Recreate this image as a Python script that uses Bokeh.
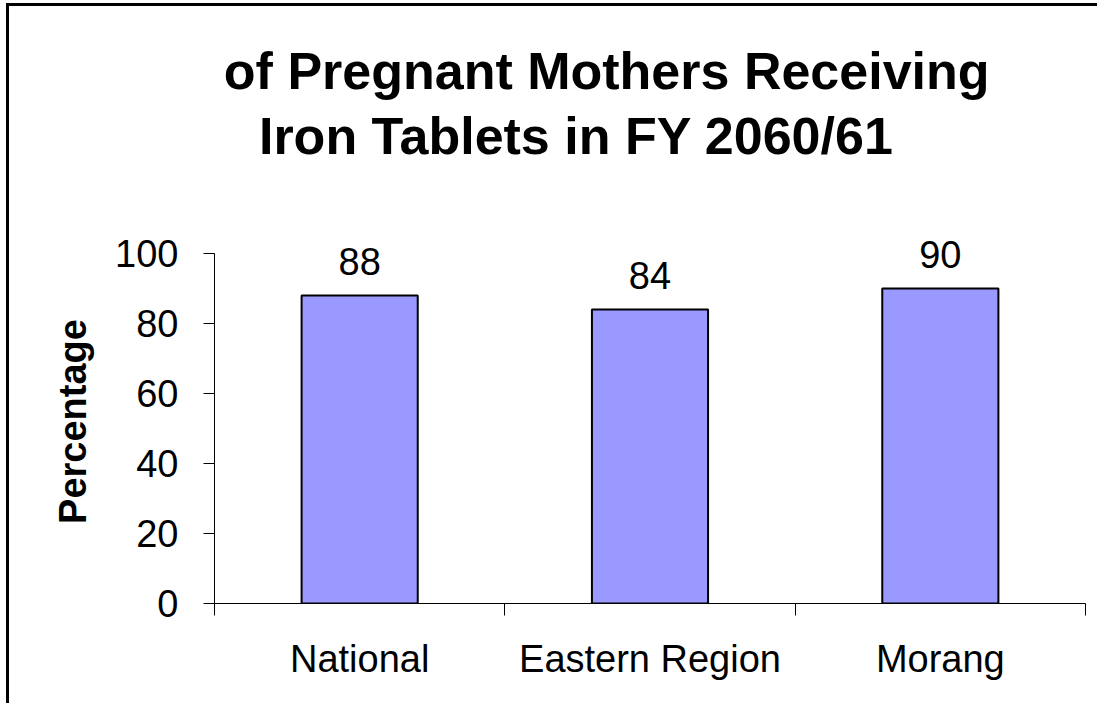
from bokeh.plotting import figure
from bokeh.layouts import column
from bokeh.models import (ColumnDataSource, Range1d, LinearAxis, FixedTicker, LabelSet)
from bokeh.core.properties import value
from bokeh.embed import file_html
from bokeh.resources import INLINE

categories = ["National", "Eastern Region", "Morang"]
values = [88, 84, 90]
y_ticks = [0, 20, 40, 60, 80, 100]
title_lines = ["% of Pregnant Mothers Receiving", "Iron Tablets in FY 2060/61"]
y_label = "Percentage"

FONT = "Liberation Sans"
Y_MAX = 100          # axis extent
Y_TOP = 104          # a little room above the axis for the value labels

n = len(categories)
centers = [i + 0.5 for i in range(n)]
src = ColumnDataSource(dict(x=centers, val=values, lbl=[str(v) for v in values]))

# ---- title panel (a pixel-space figure with no axes) ----
tp = figure(width=1088, height=164, x_range=Range1d(9, 1097), y_range=Range1d(170, 6),
            output_backend="svg", toolbar_location=None, min_border=0,
            x_axis_location=None, y_axis_location=None)
tp.outline_line_color = None
tp.grid.grid_line_color = None
tp.background_fill_color = "white"
tp.border_fill_color = "white"
tsrc = ColumnDataSource(dict(x=[461, 461], y=[70, 135], t=title_lines))
tp.text(x="x", y="y", text="t", source=tsrc, text_align="center", text_baseline="alphabetic",
        text_font=value(FONT), text_font_size=value("52px"), text_font_style="bold",
        text_color="black")

# ---- chart ----
p = figure(x_range=Range1d(0, n), y_range=Range1d(0, Y_TOP),
           frame_width=871, frame_height=364, output_backend="svg", toolbar_location=None,
           min_border_left=205, min_border_right=12, min_border_top=69, min_border_bottom=100,
           x_axis_location=None)
p.outline_line_color = None
p.grid.grid_line_color = None
p.background_fill_color = "white"
p.border_fill_color = "white"

p.vbar(x="x", top="val", width=0.4, source=src, fill_color="#9999FF",
       line_color="black", line_width=2)

labels = LabelSet(x="x", y="val", text="lbl", source=src, text_align="center",
                  text_baseline="alphabetic", y_offset=21, text_font=value(FONT),
                  text_font_size="38px", text_color="black")
p.add_layout(labels)

# y axis
ya = p.yaxis[0]
ya.ticker = FixedTicker(ticks=y_ticks)
ya.bounds = (0, Y_MAX)
ya.axis_label = y_label
ya.axis_label_text_font = FONT
ya.axis_label_text_font_style = "bold"
ya.axis_label_text_font_size = "38px"
ya.axis_label_text_color = "black"
ya.axis_label_standoff = 18
ya.major_label_text_font = FONT
ya.major_label_text_font_size = "38px"
ya.major_label_text_color = "black"
ya.major_label_standoff = 25
ya.major_tick_in = 0
ya.major_tick_out = 11
ya.minor_tick_line_color = None
ya.axis_line_color = "black"
ya.major_tick_line_color = "black"

# boundary ticks on x axis
xb = LinearAxis(ticker=FixedTicker(ticks=list(range(n + 1))))
xb.major_label_text_font_size = "0px"
xb.major_label_standoff = 0
xb.major_tick_in = 0
xb.major_tick_out = 12
xb.minor_tick_line_color = None
xb.axis_line_color = "black"
xb.major_tick_line_color = "black"
p.add_layout(xb, "below")

# category labels
xc = LinearAxis(ticker=FixedTicker(ticks=centers))
xc.major_label_overrides = {c: name for c, name in zip(centers, categories)}
xc.axis_line_color = None
xc.major_tick_line_color = None
xc.minor_tick_line_color = None
xc.major_tick_out = 0
xc.major_tick_in = 0
xc.major_label_text_font = FONT
xc.major_label_text_font_size = "38px"
xc.major_label_text_color = "black"
xc.major_label_standoff = 22
p.add_layout(xc, "below")

layout = column(tp, p, spacing=0)
layout.styles = {"border-top": "3px solid black", "border-left": "3px solid black",
                 "margin-left": "6px", "margin-top": "3px", "background-color": "white"}

open("out.html", "w").write(file_html(layout, INLINE))
